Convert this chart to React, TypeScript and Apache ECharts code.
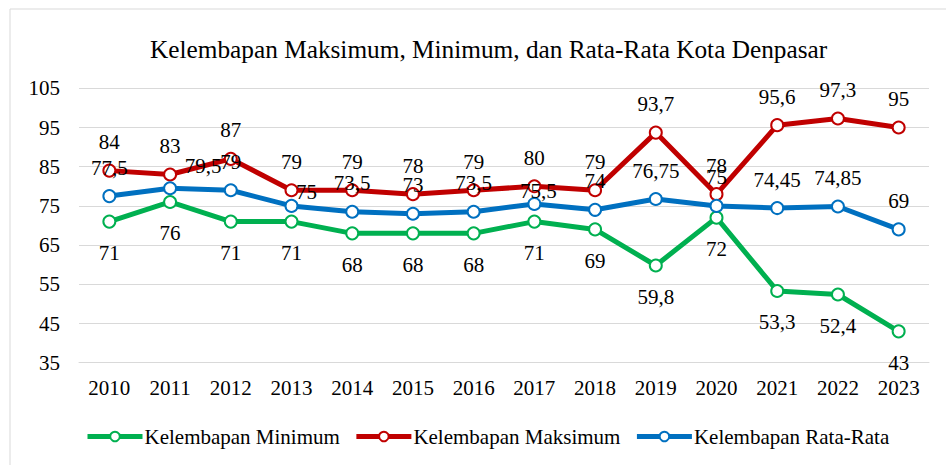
import React, { useEffect, useRef } from "react";
import * as echarts from "echarts";

const years = ["2010", "2011", "2012", "2013", "2014", "2015", "2016", "2017", "2018", "2019", "2020", "2021", "2022", "2023"];
const minValues = [71, 76, 71, 71, 68, 68, 68, 71, 69, 59.8, 72, 53.3, 52.4, 43];
const maxValues = [84, 83, 87, 79, 79, 78, 79, 80, 79, 93.7, 78, 95.6, 97.3, 95];
const avgValues = [77.5, 79.5, 79, 75, 73.5, 73, 73.5, 75.5, 74, 76.75, 75, 74.45, 74.85, 69];

const titleText = "Kelembapan Maksimum, Minimum, dan Rata-Rata Kota Denpasar";
const seriesNames = ["Kelembapan Minimum", "Kelembapan Maksimum", "Kelembapan Rata-Rata"];

const FONT = "'Liberation Serif', 'Times New Roman', serif";

// manual label nudges (as in the source chart)
const avgLabelOffsets: Record<number, [number, number]> = {
  1: [33, 6],
  3: [15, 15],
  7: [4, 16],
};

const fmt = (p: any) => String(p.value).replace(".", ",");

export default function App() {
  const ref = useRef<HTMLDivElement>(null);
  useEffect(() => {
    if (!ref.current) return;
    const chart = echarts.init(ref.current, undefined, { renderer: "svg" });
    const mk = (name: string, color: string, data: any[], pos: "top" | "bottom", dist: number) => ({
      name,
      type: "line",
      data,
      color,
      symbol: "circle",
      symbolSize: 12,
      lineStyle: { color, width: 5 },
      itemStyle: { color: "#ffffff", borderColor: color, borderWidth: 2 },
      label: {
        show: true,
        position: pos,
        distance: dist,
        color: "#000",
        fontFamily: FONT,
        fontSize: 21,
        formatter: fmt,
      },
    });
    const avgData = avgValues.map((v, i) =>
      avgLabelOffsets[i] ? { value: v, label: { offset: avgLabelOffsets[i] } } : v
    );
    chart.setOption({
      animation: false,
      backgroundColor: "#ffffff",
      title: {
        text: titleText,
        left: 145,
        top: 31,
        textStyle: { fontFamily: FONT, fontSize: 25.3, fontWeight: "normal", color: "#000" },
      },
      legend: {
        left: 80,
        top: 421,
        itemWidth: 55,
        itemHeight: 12,
        itemGap: 14,
        lineStyle: { width: 5 },
        textStyle: { fontFamily: FONT, fontSize: 21, color: "#000", padding: [0, 0, 0, -3] },
        data: seriesNames,
      },
      graphic: [
        {
          type: "rect",
          shape: { x: 10, y: 9, width: 960, height: 480 },
          style: { fill: "none", stroke: "#d9d9d9", lineWidth: 1 },
          silent: true,
        },
      ],
      grid: { left: 79, right: 17, top: 88.3, bottom: 102.3, containLabel: false },
      xAxis: {
        type: "category",
        data: years,
        boundaryGap: true,
        axisLine: { show: true, lineStyle: { color: "#d9d9d9", width: 1 } },
        axisTick: { show: false },
        axisLabel: { margin: 15, fontFamily: FONT, fontSize: 21, color: "#000" },
      },
      yAxis: {
        type: "value",
        min: 35,
        max: 105,
        interval: 10,
        axisLine: { show: false },
        axisTick: { show: false },
        splitLine: { lineStyle: { color: "#d9d9d9", width: 1 } },
        axisLabel: { margin: 19, fontFamily: FONT, fontSize: 21, color: "#000" },
      },
      series: [
        mk(seriesNames[0], "#00B050", minValues, "bottom", 14),
        mk(seriesNames[1], "#C00000", maxValues, "top", 11),
        mk(seriesNames[2], "#0070C0", avgData, "top", 11),
      ],
    });
    return () => chart.dispose();
  }, []);
  return (
    <div
      ref={ref}
      style={{ position: "absolute", left: 0, top: 0, width: 946, height: 465, background: "#fff" }}
    />
  );
}
